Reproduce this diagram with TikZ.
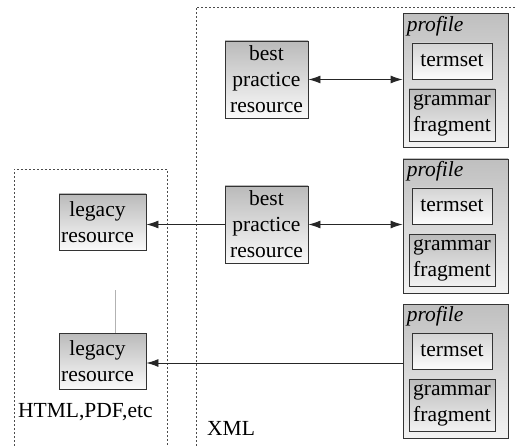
\documentclass[tikz,border=0pt]{standalone}
\usepackage{fontspec}
\setmainfont{Liberation Serif}
\newfontfamily\tmsfont{Liberation Serif}
\usetikzlibrary{arrows.meta,calc}
\begin{document}
\begin{tikzpicture}[x=1pt,y=-1pt,
  box/.style={draw=black!80,line width=0.9pt,top color=black!27,bottom color=black!2,
    inner sep=0pt,align=center,font=\tmsfont\fontsize{21.5}{26}\selectfont},
  prof/.style={draw=black!80,line width=0.9pt,top color=black!25,bottom color=black!5,inner sep=0pt,
    minimum width=105pt,minimum height=134pt},
  tbox/.style={box,top color=black!17,bottom color=black!1,minimum width=80pt,minimum height=36pt},
  gbox/.style={box,top color=black!27,bottom color=black!5,minimum width=86pt,minimum height=52pt},
  frame/.style={draw=black!70,line width=0.8pt,dash pattern=on 2pt off 2pt},
  conn/.style={draw=black!85,line width=0.9pt},
  tip/.style={-{Latex[length=12pt,width=8pt]}},
  lbl/.style={font=\tmsfont\fontsize{21.5}{26}\selectfont,inner sep=0pt}]
\useasboundingbox (0,0) rectangle (516,446);
% frames
\draw[frame] (196,446) -- (196,7) -- (517,7);
\draw[frame] (14,446) -- (14,169) -- (167,169) -- (167,446);
\node[lbl,anchor=west] (html) at (18,412) {HTML,PDF,etc};
\node[lbl,anchor=west] (xml) at (207,428) {XML};
% best practice
\node[box,minimum width=83pt,minimum height=77pt] (bp1) at (266.5,79.5) {best\\practice\\resource};
\node[box,minimum width=83pt,minimum height=77pt] (bp2) at (266.5,224.5) {best\\practice\\resource};
% legacy
\node[box,minimum width=87pt,minimum height=56pt] (l1) at (102.5,222) {legacy\hspace*{10pt}\\resource\hspace*{10pt}};
\node[box,minimum width=87pt,minimum height=56pt] (l2) at (102.5,361) {legacy\hspace*{10pt}\\resource\hspace*{10pt}};
% profiles
\node[prof] (p1) at (455.5,80.5) {};
\node[prof] (p2) at (455.5,226) {};
\node[prof] (p3) at (455.5,371) {};
\foreach \p in {p1,p2,p3}{
  \node[lbl,anchor=north west,font=\tmsfont\fontsize{21.5}{26}\selectfont\itshape] (\p lab) at ($(\p.north west)+(4,3)$) {profile};
}
\node[tbox] (t1) at (452,61) {termset};
\node[gbox] (g1) at (452,115) {grammar\\fragment};
\node[tbox] (t2) at (452,206) {termset};
\node[gbox] (g2) at (452,260) {grammar\\fragment};
\node[tbox] (t3) at (452,351) {termset};
\node[gbox] (g3) at (452,405) {grammar\\fragment};
% connectors
\draw[conn,{Latex[length=12pt,width=8pt]}-{Latex[length=12pt,width=8pt]}] (bp1.east) -- (bp1.east -| p1.west);
\draw[conn,{Latex[length=12pt,width=8pt]}-{Latex[length=12pt,width=8pt]}] (bp2.east) -- (bp2.east -| p2.west);
\draw[conn,tip] (bp2.west) -- (bp2.west -| l1.east);
\draw[conn,tip] ($(p3.west |- l2.east)+(0,2)$) -- ($(l2.east)+(0,2)$);
\coordinate (faint) at (115,290);
\draw[black!30,line width=0.6pt] ($(l2.north)+(12.5,0)$) -- (faint);
\end{tikzpicture}
\end{document}
